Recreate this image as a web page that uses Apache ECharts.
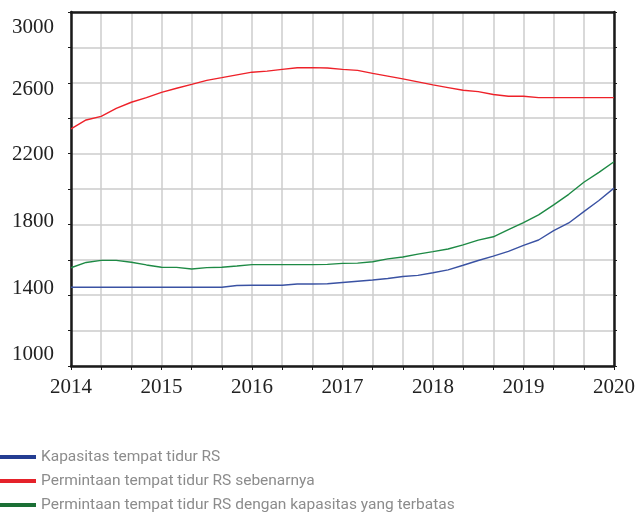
<!DOCTYPE html>
<html>
<head>
<meta charset="utf-8">
<script src="https://cdn.jsdelivr.net/npm/echarts@6/dist/echarts.min.js"></script>
<style>html,body{margin:0;padding:0;background:#fff}#c{width:638px;height:515px}</style>
</head>
<body>
<div id="c"></div>
<script>
// Two-monthly time points (categories)
var months = ['2014-01','2014-03','2014-05','2014-07','2014-09','2014-11',
              '2015-01','2015-03','2015-05','2015-07','2015-09','2015-11',
              '2016-01','2016-03','2016-05','2016-07','2016-09','2016-11',
              '2017-01','2017-03','2017-05','2017-07','2017-09','2017-11',
              '2018-01','2018-03','2018-05','2018-07','2018-09','2018-11',
              '2019-01','2019-03','2019-05','2019-07','2019-09','2019-11',
              '2020-01'];
var seriesNames = ['Kapasitas tempat tidur RS',
                   'Permintaan tempat tidur RS sebenarnya',
                   'Permintaan tempat tidur RS dengan kapasitas yang terbatas'];
var kapasitas = [1445,1445,1445,1445,1445,1445,
                 1445,1445,1445,1445,1445,1455,
                 1456,1456,1456,1463,1463,1465,
                 1472,1479,1486,1494,1506,1512,
                 1527,1543,1569,1596,1621,1648,
                 1682,1712,1765,1808,1872,1935,
                 2005];
var sebenarnya = [2340,2390,2410,2455,2490,2516,
                  2546,2569,2591,2614,2629,2645,
                  2660,2666,2676,2685,2686,2684,
                  2676,2670,2653,2638,2622,2605,
                  2588,2573,2558,2550,2534,2524,
                  2524,2516,2516,2516,2516,2516,
                  2516];
var terbatas = [1555,1585,1597,1597,1586,1571,
                1558,1557,1548,1556,1558,1565,
                1573,1573,1573,1573,1573,1574,
                1580,1581,1589,1605,1616,1632,
                1646,1661,1684,1711,1730,1770,
                1810,1854,1910,1970,2038,2094,
                2154];
var yTicks = [1000, 1400, 1800, 2200, 2600, 3000];

var lineColors = ['#3a52a3', '#ee2129', '#1e8a45'];
var legendColors = ['#243d92', '#e5222a', '#1b6f35'];

// vertical nudges of the y labels as placed in the original (px, + = down)
var labelNudge = {1000: -12, 1400: -7, 1800: -3, 2200: 1, 2600: 7, 3000: 15};
var rich = {};
Object.keys(labelNudge).forEach(function (k) {
  var d = labelNudge[k];
  rich['n' + k] = {
    fontFamily: 'Liberation Serif', fontSize: 21, color: '#222',
    padding: d >= 0 ? [2 * d, 0, 0, 0] : [0, 0, -2 * d, 0]
  };
});

var chart = echarts.init(document.getElementById('c'), null, {renderer: 'canvas'});
var serif = 'Liberation Serif';
var gridLine = {show: true, lineStyle: {color: '#cccccc', width: 1.5}};
var blackLine = {show: true, onZero: false, lineStyle: {color: '#1a1a1a', width: 2.5}};

function yAxisCfg(showLabel, pos) {
  return {
    type: 'value', position: pos, min: yTicks[0], max: yTicks[yTicks.length - 1], interval: 400,
    axisLine: blackLine,
    axisTick: {show: true, length: 3, lineStyle: {color: '#1a1a1a', width: 1}},
    minorTick: {show: true, splitNumber: 2, length: 3, lineStyle: {color: '#1a1a1a', width: 1}},
    splitLine: pos === 'left' ? gridLine : {show: false},
    minorSplitLine: pos === 'left' ? gridLine : {show: false},
    axisLabel: {
      show: showLabel, color: '#222', fontFamily: serif, fontSize: 21, margin: 17,
      formatter: function (v) { return '{n' + v + '|' + v + '}'; },
      rich: rich
    }
  };
}

var option = {
  animation: false,
  backgroundColor: '#ffffff',
  grid: {left: 71, right: 24, top: 12, bottom: 149, show: false},
  xAxis: [{
    type: 'category', data: months, boundaryGap: false, position: 'bottom',
    axisLine: blackLine,
    axisTick: {show: true, length: 4, interval: function (i) { return i % 2 === 0; }, lineStyle: {color: '#1a1a1a', width: 1}},
    splitLine: {show: true, interval: function (i) { return i % 2 === 0; }, lineStyle: {color: '#cccccc', width: 1.5}},
    axisLabel: {
      interval: function (i) { return i % 6 === 0; },
      formatter: function (v) { return v.slice(0, 4); },
      color: '#222', fontFamily: serif, fontSize: 21, margin: 11
    }
  }, {
    type: 'category', data: months, boundaryGap: false, position: 'top',
    axisLine: blackLine, axisTick: {show: false}, axisLabel: {show: false}, splitLine: {show: false}
  }],
  yAxis: [yAxisCfg(true, 'left'), yAxisCfg(false, 'right')],
  legend: {
    orient: 'vertical', left: 0, top: 447, padding: 0, itemWidth: 36, itemHeight: 4, itemGap: 4,
    icon: 'rect',
    textStyle: {color: '#8c8c8c', fontFamily: 'Roboto', fontSize: 15.5, lineHeight: 20, padding: [0, 0, 0, 0]},
    data: seriesNames.map(function (n, i) { return {name: n, itemStyle: {color: legendColors[i]}}; })
  },
  series: [
    {name: seriesNames[0], type: 'line', data: kapasitas, showSymbol: false, lineStyle: {color: lineColors[0], width: 1.4}, itemStyle: {color: lineColors[0]}},
    {name: seriesNames[1], type: 'line', data: sebenarnya, showSymbol: false, lineStyle: {color: lineColors[1], width: 1.4}, itemStyle: {color: lineColors[1]}},
    {name: seriesNames[2], type: 'line', data: terbatas, showSymbol: false, lineStyle: {color: lineColors[2], width: 1.4}, itemStyle: {color: lineColors[2]}}
  ]
};
chart.setOption(option);
</script>
</body>
</html>
